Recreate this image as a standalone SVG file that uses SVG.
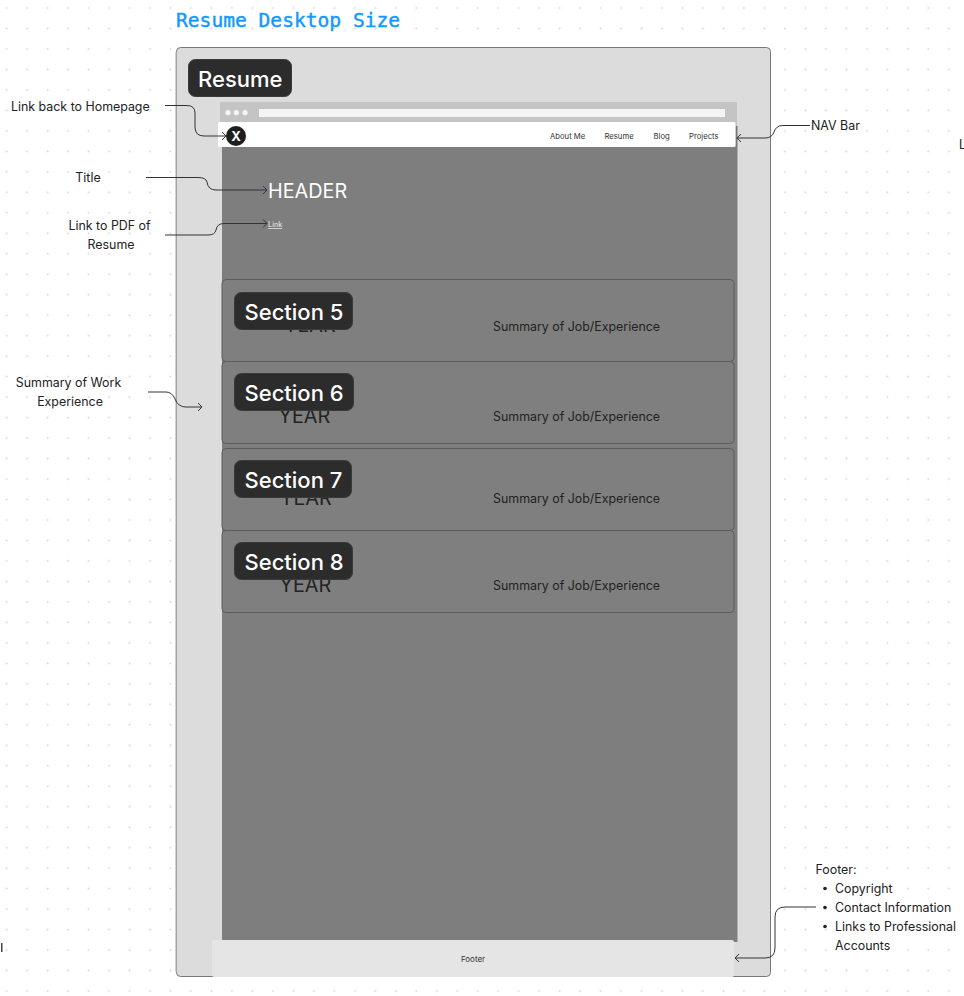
<svg xmlns="http://www.w3.org/2000/svg" width="964" height="996" viewBox="0 0 964 996">
<defs>
<pattern id="dots" x="-3.54" y="-2.24" width="20.48" height="20.48" patternUnits="userSpaceOnUse"><circle cx="10.24" cy="10.24" r="1" fill="#d6d6d6"/></pattern>
<marker id="arr" markerWidth="8" markerHeight="10" refX="6" refY="5" orient="auto" markerUnits="userSpaceOnUse"><path d="M2 1 L6 5 L2 9" fill="none" stroke="#333" stroke-width="1"/></marker>
</defs>
<style>
text{font-family:Inter,"Noto Sans","Liberation Sans",sans-serif}
.note{font-size:12.4px;fill:#222}
.tag{fill:#2c2c2c;stroke:#3a3a3a;stroke-width:1}
.tagt{font-size:22px;font-weight:500;fill:#fff}
.year{font-size:19.8px;fill:#222}
.sum{font-size:12.4px;fill:#222}
.card{fill:#7f7f7f;stroke:#5c5c5c;stroke-width:1}
.nav{font-size:7.7px;fill:#333}
.c{fill:none;stroke:#333;stroke-width:1;marker-end:url(#arr)}
</style>
<rect width="964" height="996" fill="#fff"/>
<rect width="964" height="996" fill="url(#dots)"/>
<text x="176" y="27" font-size="19.6" fill="#0d99ff" stroke="#0d99ff" stroke-width="0.4" style="font-family:'DejaVu Sans Mono','Liberation Mono',monospace">Resume Desktop Size</text>
<g id="frame"><rect x="176.5" y="47.5" width="594" height="929" rx="4" fill="#dcdcdc" stroke="#777"/><rect x="175.500" y="52" width="1.500" height="920" fill="#a3a3a3"/></g>
<g id="resume-tag"><rect class="tag" x="188.5" y="59.5" width="103" height="37" rx="7"/><text class="tagt" x="198" y="87">Resume</text></g>
<g id="browser">
<rect x="220" y="102" width="517" height="45" fill="#c4c4c4"/>
<circle cx="228" cy="112.700" r="2.600" fill="#f5f5f5"/><circle cx="236.300" cy="112.700" r="2.600" fill="#f5f5f5"/><circle cx="245" cy="112.700" r="2.600" fill="#f5f5f5"/>
<rect x="259" y="109" width="466" height="8" fill="#f5f5f5"/>
<rect x="222" y="147" width="515.500" height="795" fill="#7e7e7e"/>
<rect x="735.500" y="126" width="2" height="21" fill="#777"/>
</g>
<g id="nav">
<rect x="218" y="122" width="517.500" height="25" rx="2" fill="#fff"/>
<circle cx="236" cy="136" r="10" fill="#1e1e1e"/>
<text x="236" y="141" font-size="13" font-weight="700" fill="#fff" text-anchor="middle">X</text>
<text class="nav" x="550" y="139">About Me</text><text class="nav" x="604.500" y="139">Resume</text><text class="nav" x="653.500" y="139">Blog</text><text class="nav" x="689" y="139">Projects</text>
</g>
<g id="header"><text x="268" y="198" font-size="19.800" fill="#fff">HEADER</text>
<text x="268" y="227" font-size="7.300" fill="#eee" text-decoration="underline">Link</text></g>
<g id="section-5"><rect class="card" x="222" y="279.500" width="512" height="82" rx="4"/><text class="year" x="284" y="332">YEAR</text><text class="sum" x="493" y="330.500">Summary of Job/Experience</text><rect class="tag" x="234.500" y="292.500" width="118" height="37" rx="7"/><text class="tagt" x="244.500" y="320">Section 5</text></g>
<g id="section-6"><rect class="card" x="222" y="361.500" width="512" height="82" rx="4"/><text class="year" x="278.500" y="423">YEAR</text><text class="sum" x="493" y="420.500">Summary of Job/Experience</text><rect class="tag" x="234.500" y="373.500" width="119" height="37" rx="7"/><text class="tagt" x="244.500" y="401">Section 6</text></g>
<g id="section-7"><rect class="card" x="222" y="448.500" width="512" height="82" rx="4"/><text class="year" x="280" y="505">YEAR</text><text class="sum" x="493" y="502.500">Summary of Job/Experience</text><rect class="tag" x="234.500" y="460.500" width="117" height="37" rx="7"/><text class="tagt" x="244.500" y="488">Section 7</text></g>
<g id="section-8"><rect class="card" x="222" y="530.500" width="512" height="82" rx="4"/><text class="year" x="279.500" y="592">YEAR</text><text class="sum" x="493" y="589.500">Summary of Job/Experience</text><rect class="tag" x="234.500" y="542.500" width="118" height="37" rx="7"/><text class="tagt" x="244.500" y="570">Section 8</text></g>
<g id="footer"><rect x="212" y="940" width="522" height="37" rx="2" fill="#e5e5e5"/><text x="473" y="962" font-size="8" fill="#333" text-anchor="middle">Footer</text></g>
<g id="notes">
<text class="note" x="11" y="111">Link back to Homepage</text>
<text class="note" x="88" y="182" text-anchor="middle">Title</text>
<text class="note" x="109.500" y="230" text-anchor="middle">Link to PDF of</text>
<text class="note" x="111" y="249" text-anchor="middle">Resume</text>
<text class="note" x="68.500" y="387" text-anchor="middle">Summary of Work</text>
<text class="note" x="70" y="406" text-anchor="middle">Experience</text>
<text class="note" x="811" y="130">NAV Bar</text>
<text class="note" x="815.500" y="874">Footer:</text>
<text class="note" x="835" y="893">Copyright</text><text class="note" x="835" y="912">Contact Information</text><text class="note" x="835" y="931">Links to Professional</text><text class="note" x="835" y="950">Accounts</text>
<circle cx="825" cy="888.500" r="1.800" fill="#222"/><circle cx="825" cy="907.500" r="1.800" fill="#222"/><circle cx="825" cy="926.500" r="1.800" fill="#222"/>
<text class="note" x="959" y="149">L</text>
<rect x="1" y="943" width="1.500" height="9" fill="#444"/>
</g>
<g id="connectors">
<path class="c" d="M165 105.500 H187 Q195 105.500 195 113 V127 Q195 136 204 136 H226"/>
<path class="c" d="M146 177.500 H198 Q206 177.500 207 182 Q208 190 216 190 H267"/>
<path class="c" d="M165 235 H208 Q215 235 216 230 Q217 223.500 224 223.500 H267"/>
<path class="c" d="M148 392 H166 Q172 392 175 399 Q178 407 186 407 H202"/>
<path class="c" d="M810 125.500 H783 Q776 125.500 774 132 Q772 138 765 138 H737"/>
<path class="c" d="M816 907 H785 Q775 907 775 917 V948 Q775 958 765 958 H735"/>
</g>
</svg>
